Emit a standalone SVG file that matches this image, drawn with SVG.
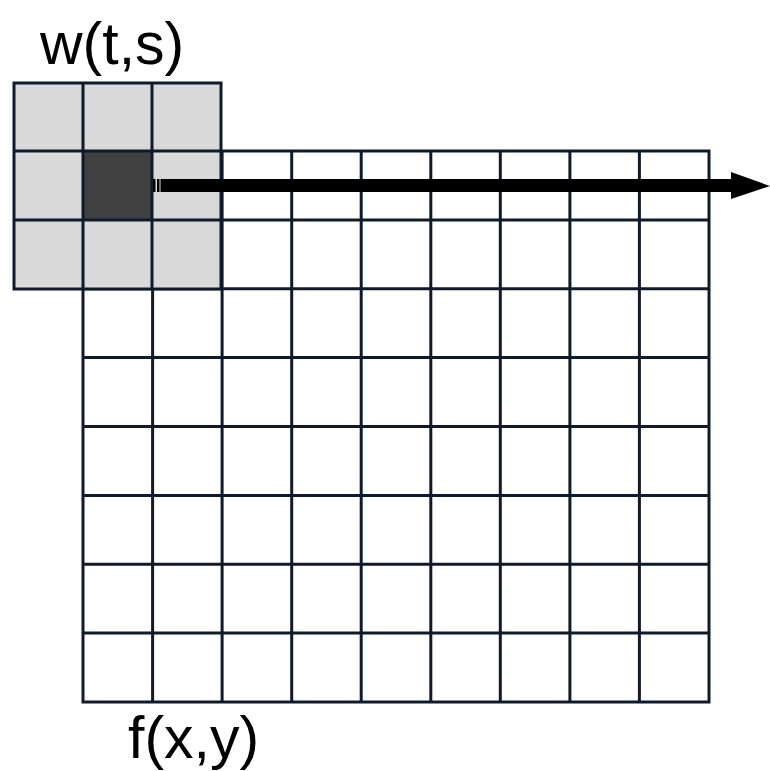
<svg xmlns="http://www.w3.org/2000/svg" width="770" height="771" viewBox="0 0 770 771">
<style>
.g{fill:none;stroke:#0f1b2a;stroke-width:3}
.lbl{font-family:"Liberation Sans",Arial,sans-serif;font-size:59px;fill:#000}
</style>
<rect width="770" height="771" fill="#fff"/>
<g id="image-grid">
<rect x="83" y="151" width="626" height="551" class="g"/>
<path class="g" d="M152.6 151V702M222.1 151V702M291.7 151V702M361.2 151V702M430.8 151V702M500.3 151V702M569.9 151V702M639.4 151V702M83 219.9H709M83 288.8H709M83 357.6H709M83 426.5H709M83 495.4H709M83 564.2H709M83 633.1H709"/>
</g>
<g id="kernel">
<rect x="14" y="83" width="207" height="206" fill="#d9d9d9"/>
<rect x="83" y="151" width="69" height="69" fill="#404040"/>
<rect x="14" y="83" width="207" height="206" class="g"/>
<path class="g" d="M83 83V289M152 83V289M14 151H221M14 220H221"/>
</g>
<g id="connectors">
<rect x="153" y="179" width="2.5" height="13" fill="#000"/>
<rect x="157" y="179" width="2.5" height="13" fill="#000"/>
<rect x="160.5" y="179" width="572" height="13" fill="#000"/>
<polygon points="731,172 770,186 731,199" fill="#000"/>
</g>
<text class="lbl" x="40" y="64">w(t,s)</text>
<text class="lbl" x="128" y="758">f(x,y)</text>
</svg>
